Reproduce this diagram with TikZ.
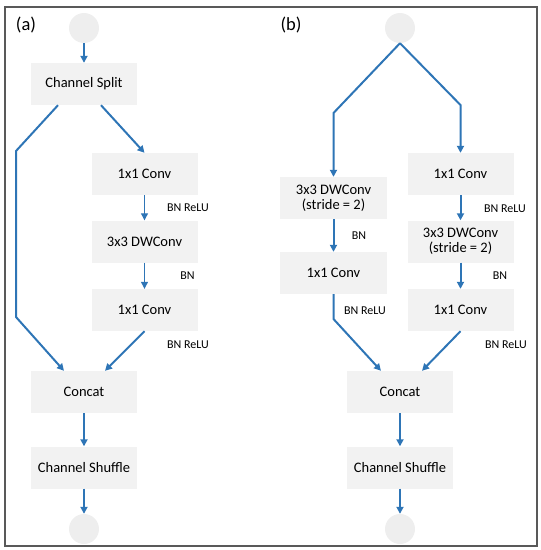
\documentclass[tikz,border=0pt]{standalone}
\usepackage{fontspec}
\setmainfont{Carlito}
\usetikzlibrary{arrows.meta}
\definecolor{boxgray}{HTML}{F2F2F2}
\definecolor{dotgray}{HTML}{EEEEEE}
\definecolor{flowblue}{HTML}{2E75B6}
\definecolor{framegray}{HTML}{595959}
\begin{document}
\begin{tikzpicture}[
    x=1pt,y=-1pt,
    block/.style={
        rectangle,
        fill=boxgray,
        minimum width=106pt,
        minimum height=42pt,
        inner sep=0pt,
        align=center,
        font=\fontsize{14.5}{15}\selectfont
    },
    dot/.style={
        circle,
        fill=dotgray,
        minimum size=30pt,
        inner sep=0pt
    },
    flow/.style={flowblue,line width=2pt,-{Triangle[length=7pt,width=7pt]}},
    thinflow/.style={flowblue,line width=1.1pt,-{Triangle[length=7pt,width=7pt]}},
    note/.style={font=\fontsize{12}{13}\selectfont},
    tag/.style={font=\fontsize{18.5}{20}\selectfont}
]

\useasboundingbox (0,0) rectangle (541,550);
\draw[framegray,line width=1.2pt] (5,7) rectangle (537,546);

\begin{scope}

\node[tag] (taga) at (26,25) {(a)};

\node[dot]   (ina)      at (84,28)      {};
\node[block] (splita)   at (84,84)      {Channel Split};
\node[block] (conv1a)   at (144.5,174)  {1x1 Conv};
\node[block] (dwa)      at (144.5,241.5){3x3 DWConv};
\node[block] (conv2a)   at (144.5,310)  {1x1 Conv};
\node[block] (concata)  at (84,392)     {Concat};
\node[block] (shufflea) at (84,467.5)   {Channel Shuffle};
\node[dot]   (outa)     at (84,529)     {};

\node[note] (bnra1) at (188,208) {BN ReLU};
\node[note] (bna1)  at (187.5,276) {BN};
\node[note] (bnra2) at (188,345) {BN ReLU};

\coordinate (sidea1) at (16,151);
\coordinate (sidea2) at (16,317);

\draw[flow] (ina) -- (splita);
\draw[flow] ([xshift=-26pt]splita.south) -- (sidea1) -- (sidea2)
    -- ([xshift=-20pt]concata.north);
\draw[flow] ([xshift=17pt]splita.south) -- (conv1a.north);
\draw[thinflow] (conv1a) -- (dwa);
\draw[thinflow] (dwa) -- (conv2a);
\draw[flow] (conv2a.south) -- ([xshift=21pt]concata.north);
\draw[flow] (concata) -- (shufflea);
\draw[flow] (shufflea) -- (outa);

\end{scope}

\begin{scope}

\node[tag] (tagb) at (291,25) {(b)};

\node[dot]   (inb)      at (400,28)     {};
\node[block,minimum width=107pt] (dwl)   at (333.5,198) {3x3 DWConv\\(stride = 2)};
\node[block,minimum width=107pt] (convl) at (333.5,273) {1x1 Conv};
\node[block] (conv1r)   at (460.5,174)  {1x1 Conv};
\node[block] (dwr)      at (460.5,241.5){3x3 DWConv\\(stride = 2)};
\node[block] (conv2r)   at (460.5,310)  {1x1 Conv};
\node[block] (concatb)  at (400,392)    {Concat};
\node[block] (shuffleb) at (400,467.5)  {Channel Shuffle};
\node[dot]   (outb)     at (400,529)    {};

\node[note] (bnl)   at (359,236) {BN};
\node[note] (bnrl)  at (365,311) {BN ReLU};
\node[note] (bnrr1) at (505,209) {BN ReLU};
\node[note] (bnr)   at (500,276) {BN};
\node[note] (bnrr2) at (506,345) {BN ReLU};

\coordinate (forkl) at (333.5,113);
\coordinate (forkr) at (460.5,105);
\coordinate (joinl) at (333.5,319);

\draw[flow] (inb.south) -- (forkl) -- (dwl.north);
\draw[flow] (inb.south) -- (forkr) -- (conv1r.north);
\draw[flow] (dwl) -- (convl);
\draw[flow] (conv1r) -- (dwr);
\draw[flow] (dwr) -- (conv2r);
\draw[flow] (convl.south) -- (joinl) -- ([xshift=-19pt]concatb.north);
\draw[flow] (conv2r.south) -- ([xshift=22pt]concatb.north);
\draw[flow] (concatb) -- (shuffleb);
\draw[flow] (shuffleb) -- (outb);

\end{scope}
\end{tikzpicture}
\end{document}
